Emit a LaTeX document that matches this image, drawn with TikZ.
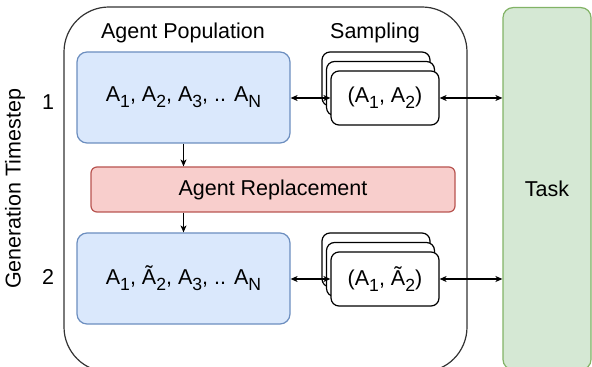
\documentclass[tikz,border=0pt]{standalone}
\usepackage{fontspec}
\setmainfont{Liberation Sans}
\usetikzlibrary{positioning,arrows.meta}

\definecolor{popfill}{HTML}{DAE8FC}
\definecolor{popline}{HTML}{6C8EBF}
\definecolor{replfill}{HTML}{F8CECC}
\definecolor{replline}{HTML}{B85450}
\definecolor{taskfill}{HTML}{D5E8D4}
\definecolor{taskline}{HTML}{82B366}

% draw.io style subscript: large and low
\newcommand{\lowsub}[1]{\raisebox{-0.28em}{\fontsize{8.8}{10}\selectfont #1}}

\begin{document}
\begin{tikzpicture}[x=0.5pt,y=-0.5pt,
  font=\fontsize{10.75}{13}\selectfont,
  every node/.style={line width=0.6pt},
  popbox/.style={draw=popline,fill=popfill,rounded corners=5pt,
    minimum width=106.5pt,minimum height=45.5pt},
  replbox/.style={draw=replline,fill=replfill,rounded corners=3pt,
    minimum width=182pt,minimum height=22.5pt},
  taskbox/.style={draw=taskline,fill=taskfill,rounded corners=5pt,
    minimum width=44pt,minimum height=181pt},
  card/.style={draw,fill=white,rounded corners=4pt,
    minimum width=54pt,minimum height=27pt},
  link/.style={line width=0.6pt,-{Stealth[length=3.5pt,width=3pt,inset=1pt]}},
  twoway/.style={line width=0.6pt,
    {Stealth[length=3.5pt,width=3pt,inset=1pt]}-{Stealth[length=3.5pt,width=3pt,inset=1pt]}}]
  \useasboundingbox (0,0) rectangle (592,367);
  \clip (0,0) rectangle (592,367);

  % generation frame and task
  \draw[line width=0.6pt,black!80,rounded corners=22.5pt] (64,7) rectangle (467,372);
  \node[taskbox,anchor=north] (task) at (547,7) {};
  \node (tasklbl) at (547,189) {Task};

  % labels
  \node (poplbl) at (183,33) {Agent Population};
  \node (samplbl) at (375,33) {Sampling};
  \node[rotate=90] (genlbl) at (15,189) {Generation Timestep};
  \node (step1) at (48,102) {1};
  \node (step2) at (48,277) {2};

  % populations
  \node[popbox] (pop1) at (183.5,97.5)
    {A\lowsub{1}, A\lowsub{2}, A\lowsub{3}, .. A\lowsub{N}};
  \node[replbox] (repl) at (273,189.5) {Agent Replacement};
  \node[popbox] (pop2) at (183.5,278.5)
    {A\lowsub{1}, Ã\lowsub{2}, A\lowsub{3}, .. A\lowsub{N}};

  % sampled pairs (stacked cards)
  \foreach \row/\y/\txt in {1/98/{(A\lowsub{1}, A\lowsub{2})},
                            2/279/{(A\lowsub{1}, Ã\lowsub{2})}}
  {
    \node[card] (s\row c) at (376,\y-19) {};
    \node[card] (s\row b) at (380.5,\y-9.5) {};
    \node[card] (s\row) at (385,\y) {\txt};
    \draw[twoway] (pop\row.east |- s\row.west) -- (s\row.west);
    \draw[twoway] (s\row.east) -- (s\row.east -| task.west);
  }

  \draw[link] (pop1.south) -- (pop1.south |- repl.north);
  \draw[link] (pop2.north |- repl.south) -- (pop2.north);
\end{tikzpicture}
\end{document}
